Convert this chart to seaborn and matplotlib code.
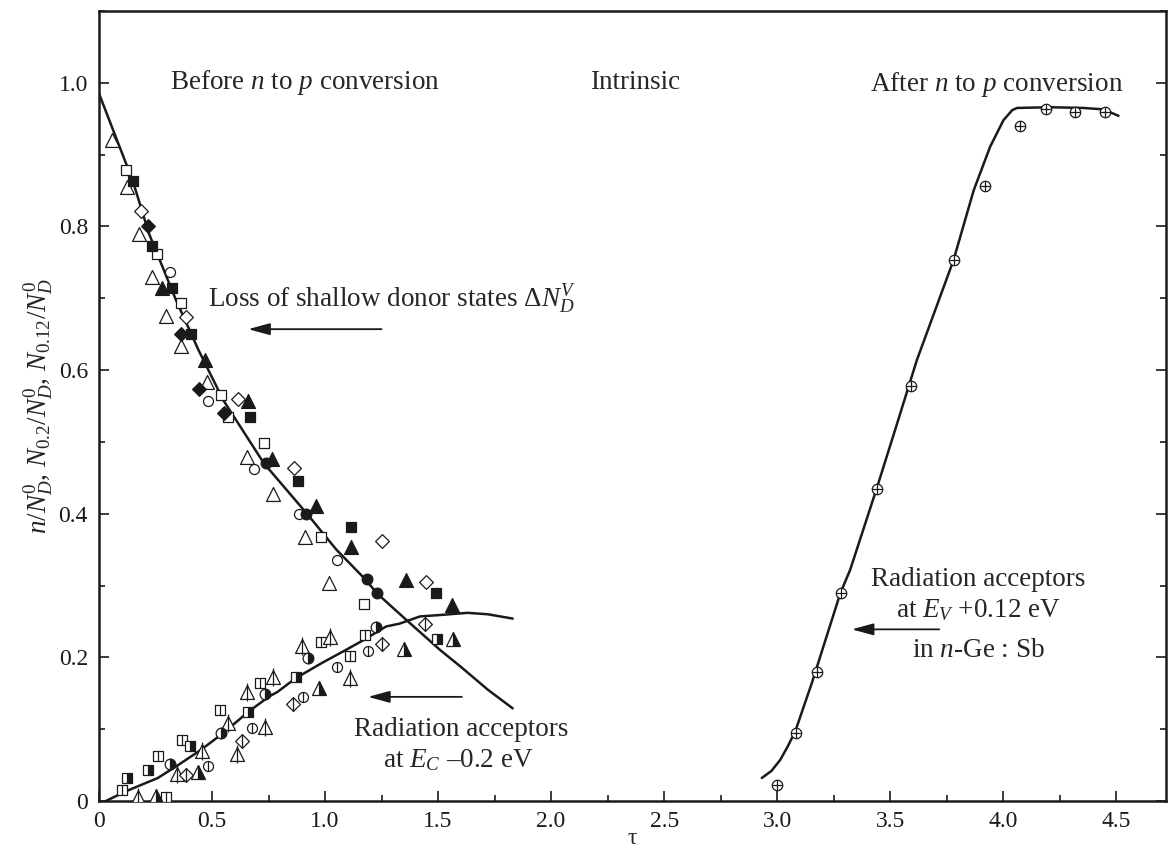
import matplotlib
matplotlib.use("Agg")
import matplotlib.pyplot as plt
import seaborn as sns
import pandas as pd
import numpy as np
from matplotlib.ticker import MultipleLocator, FuncFormatter

# ---------------- data ----------------
donor_tau = [0.0, 0.15, 0.22, 0.34, 0.44, 0.55, 0.73, 0.92, 1.05, 1.18, 1.23, 1.36, 1.51, 1.60, 1.72, 1.83]
donor_frac = [0.985, 0.863, 0.791, 0.698, 0.628, 0.558, 0.470, 0.400, 0.350, 0.308, 0.289, 0.252, 0.210, 0.187, 0.155, 0.129]

acc02_tau = [0.03, 0.13, 0.26, 0.35, 0.45, 0.53, 0.60, 0.66, 0.75, 0.79, 0.87, 0.985, 1.09, 1.17, 1.27, 1.33, 1.42, 1.51, 1.63, 1.72, 1.83]
acc02_frac = [0.0, 0.015, 0.032, 0.050, 0.071, 0.090, 0.108, 0.124, 0.145, 0.152, 0.171, 0.192, 0.210, 0.224, 0.243, 0.247, 0.257, 0.259, 0.262, 0.260, 0.254]

acc012_tau = [2.932, 2.975, 3.013, 3.045, 3.080, 3.153, 3.279, 3.323, 3.441, 3.522, 3.618, 3.780, 3.869, 3.942, 4.001, 4.040, 4.061, 4.208, 4.355, 4.444, 4.51]
acc012_frac = [0.032, 0.042, 0.057, 0.075, 0.097, 0.164, 0.289, 0.322, 0.436, 0.517, 0.614, 0.753, 0.850, 0.911, 0.948, 0.962, 0.965, 0.966, 0.965, 0.963, 0.954]

# upper (donor loss) points
open_tri_x = [0.056, 0.122, 0.178, 0.233, 0.295, 0.363, 0.477, 0.653, 0.771, 0.912, 1.019]
open_tri_y = [0.921, 0.855, 0.790, 0.729, 0.675, 0.633, 0.584, 0.479, 0.428, 0.368, 0.303]
open_sq_x = [0.118, 0.255, 0.361, 0.540, 0.572, 0.730, 0.982, 1.174]
open_sq_y = [0.879, 0.762, 0.694, 0.566, 0.534, 0.499, 0.368, 0.275]
filled_sq_x = [0.152, 0.233, 0.324, 0.407, 0.668, 0.882, 1.114, 1.491]
filled_sq_y = [0.863, 0.773, 0.715, 0.650, 0.534, 0.446, 0.382, 0.290]
open_dia_x = [0.186, 0.383, 0.616, 0.864, 1.251, 1.445]
open_dia_y = [0.821, 0.674, 0.560, 0.464, 0.362, 0.305]
filled_dia_x = [0.215, 0.361, 0.444, 0.555]
filled_dia_y = [0.800, 0.650, 0.573, 0.540]
open_circ_x = [0.314, 0.484, 0.687, 0.886, 1.055]
open_circ_y = [0.736, 0.557, 0.462, 0.399, 0.335]
filled_tri_x = [0.280, 0.469, 0.658, 0.764, 0.960, 1.114, 1.358, 1.560]
filled_tri_y = [0.715, 0.614, 0.557, 0.476, 0.411, 0.354, 0.308, 0.273]
filled_circ_x = [0.739, 0.916, 1.184, 1.229]
filled_circ_y = [0.471, 0.400, 0.309, 0.289]

# lower (E_C - 0.2 eV acceptors) points
vsq_x = [0.103, 0.260, 0.295, 0.369, 0.535, 0.712, 0.982, 1.111, 1.177]
vsq_y = [0.015, 0.063, 0.006, 0.085, 0.127, 0.165, 0.222, 0.202, 0.231]
half_sq_x = [0.122, 0.215, 0.403, 0.661, 0.870, 1.494]
half_sq_y = [0.032, 0.043, 0.077, 0.124, 0.173, 0.226]
half_circ_x = [0.314, 0.540, 0.735, 0.926, 1.226]
half_circ_y = [0.052, 0.094, 0.149, 0.199, 0.242]
vtri_x = [0.171, 0.344, 0.457, 0.569, 0.609, 0.653, 0.735, 0.771, 0.897, 1.022, 1.111]
vtri_y = [0.006, 0.038, 0.070, 0.108, 0.065, 0.152, 0.103, 0.173, 0.216, 0.228, 0.171]
vdia_x = [0.383, 0.631, 0.860, 1.251, 1.442]
vdia_y = [0.036, 0.084, 0.135, 0.219, 0.247]
vcirc_x = [0.484, 0.676, 0.904, 1.052, 1.189]
vcirc_y = [0.049, 0.101, 0.145, 0.186, 0.209]
half_tri_x = [0.251, 0.437, 0.973, 1.350, 1.565]
half_tri_y = [0.007, 0.041, 0.158, 0.212, 0.225]

# right (E_V + 0.12 eV acceptors) points
plus_x = [3.0, 3.084, 3.175, 3.282, 3.441, 3.592, 3.78, 3.92, 4.072, 4.189, 4.319, 4.448]
plus_y = [0.022, 0.095, 0.18, 0.289, 0.435, 0.578, 0.753, 0.856, 0.940, 0.963, 0.960, 0.960]

x_ticks = [0, 0.5, 1.0, 1.5, 2.0, 2.5, 3.0, 3.5, 4.0, 4.5]
y_ticks = [0, 0.2, 0.4, 0.6, 0.8, 1.0]

# ---------------- style ----------------
sns.set_theme(style="white")
plt.rcParams["font.family"] = ["Liberation Serif", "DejaVu Serif"]
plt.rcParams["mathtext.fontset"] = "custom"
plt.rcParams["mathtext.rm"] = "Liberation Serif"
plt.rcParams["mathtext.it"] = "Liberation Serif:italic"
plt.rcParams["mathtext.bf"] = "Liberation Serif:bold"

FS = 17      # tick labels
FA = 19.5    # annotations / axis labels
fig = plt.figure(figsize=(11.68, 8.55), dpi=100)
ax = fig.add_axes([99 / 1168, (855 - 801) / 855, (1166 - 99) / 1168, 790 / 855])
ax.set_xlim(0, 4.72)
ax.set_ylim(0, 1.1)

LW = 1.8
for xs, ys in [(donor_tau, donor_frac), (acc02_tau, acc02_frac), (acc012_tau, acc012_frac)]:
    df = pd.DataFrame({"tau": xs, "frac": ys})
    sns.lineplot(data=df, x="tau", y="frac", sort=False, estimator=None,
                 color="#1a1a1a", lw=LW, ax=ax, zorder=2)

MEW = 0.9
def pts(xs, ys, marker, size, face, zorder=3):
    df = pd.DataFrame({"tau": xs, "frac": ys})
    sns.scatterplot(data=df, x="tau", y="frac", marker=marker, s=size ** 2,
                    facecolor=face, edgecolor="#1a1a1a", linewidth=MEW, ax=ax, zorder=zorder)

def bar(xs, ys, size):
    df = pd.DataFrame({"tau": xs, "frac": ys})
    sns.scatterplot(data=df, x="tau", y="frac", marker="|", s=size ** 2,
                    color="#1a1a1a", linewidth=MEW, ax=ax, zorder=4)

def half(xs, ys, marker, size):
    ax.plot(xs, ys, ls="none", marker=marker, ms=size, fillstyle="right",
            markerfacecolor="#1a1a1a", markerfacecoloralt="white",
            markeredgecolor="#1a1a1a", mew=MEW, zorder=3)

TRI, SQ, CIR, DIA = 10.0, 7.2, 7.2, 7.0

# upper points
pts(open_tri_x, open_tri_y, "^", TRI, "white")
pts(open_sq_x, open_sq_y, "s", SQ, "white")
pts(open_dia_x, open_dia_y, "D", DIA, "white")
pts(open_circ_x, open_circ_y, "o", CIR, "white")
pts(filled_sq_x, filled_sq_y, "s", SQ, "#1a1a1a")
pts(filled_dia_x, filled_dia_y, "D", DIA, "#1a1a1a")
pts(filled_tri_x, filled_tri_y, "^", TRI, "#1a1a1a")
pts(filled_circ_x, filled_circ_y, "o", CIR + 0.5, "#1a1a1a")

# lower points
pts(vsq_x, vsq_y, "s", SQ, "white"); bar(vsq_x, vsq_y, SQ)
pts(vtri_x, vtri_y, "^", TRI, "white"); bar(vtri_x, vtri_y, TRI + 3)
pts(vdia_x, vdia_y, "D", DIA, "white"); bar(vdia_x, vdia_y, DIA * 1.41)
pts(vcirc_x, vcirc_y, "o", CIR, "white"); bar(vcirc_x, vcirc_y, CIR)
half(half_sq_x, half_sq_y, "s", SQ)
half(half_circ_x, half_circ_y, "o", CIR + 0.5)
half(half_tri_x, half_tri_y, "^", TRI)

# right points (circle with plus)
pts(plus_x, plus_y, "o", 7.5, "white")
dfp = pd.DataFrame({"tau": plus_x, "frac": plus_y})
sns.scatterplot(data=dfp, x="tau", y="frac", marker="+", s=7.5 ** 2,
                color="#1a1a1a", linewidth=MEW, ax=ax, zorder=4)

# ---------------- annotations ----------------
ax.text(0.91, 1.0, "Before $n$ to $p$ conversion", fontsize=FA, ha="center", va="center")
ax.text(2.37, 1.0, "Intrinsic", fontsize=FA, ha="center", va="center")
ax.text(3.97, 0.998, "After $n$ to $p$ conversion", fontsize=FA, ha="center", va="center")

ax.text(0.484, 0.698, r"Loss of shallow donor states $\Delta N_D^V$", fontsize=FA, ha="left", va="center")
arrow = dict(arrowstyle="-|>,head_length=1.1,head_width=0.3", color="#1a1a1a", lw=1.3, shrinkA=0, shrinkB=0)
ax.annotate("", xy=(0.66, 0.657), xytext=(1.25, 0.657), arrowprops=arrow)

ax.text(1.60, 0.099, "Radiation acceptors", fontsize=FA, ha="center", va="center")
ax.text(1.59, 0.057, r"at $E_C$ –0.2 eV", fontsize=FA, ha="center", va="center")
ax.annotate("", xy=(1.19, 0.145), xytext=(1.605, 0.145), arrowprops=arrow)

ax.text(3.89, 0.308, "Radiation acceptors", fontsize=FA, ha="center", va="center")
ax.text(3.89, 0.266, r"at $E_V$ +0.12 eV", fontsize=FA, ha="center", va="center")
ax.text(3.89, 0.210, r"in $n$-Ge : Sb", fontsize=FA, ha="center", va="center")
ax.annotate("", xy=(3.33, 0.239), xytext=(3.717, 0.239), arrowprops=arrow)

# ---------------- axes ----------------
fmt = FuncFormatter(lambda v, p: "0" if abs(v) < 1e-9 else f"{v:.1f}")
ax.set_xticks(x_ticks)
ax.set_yticks(y_ticks)
ax.xaxis.set_major_formatter(fmt)
ax.yaxis.set_major_formatter(fmt)
ax.xaxis.set_minor_locator(MultipleLocator(0.25))
ax.yaxis.set_minor_locator(MultipleLocator(0.1))
ax.tick_params(axis="both", which="both", direction="in", colors="#1a1a1a",
               labelsize=FS, width=1.2, top=False, right=True, left=True, bottom=True)
ax.tick_params(axis="both", which="major", length=7)
ax.tick_params(axis="both", which="minor", length=4.5)
ax.tick_params(axis="x", which="major", pad=7)
ax.tick_params(axis="y", which="major", pad=8)
for s in ax.spines.values():
    s.set_linewidth(1.8)
    s.set_color("#1a1a1a")

ax.set_xlabel("τ", fontsize=FS, labelpad=-3)
ax.set_ylabel(r"$n/N_D^0$, $N_{0.2}/N_D^0$, $N_{0.12}/N_D^0$", fontsize=FA, labelpad=2)

fig.savefig("out.png", dpi=100)
